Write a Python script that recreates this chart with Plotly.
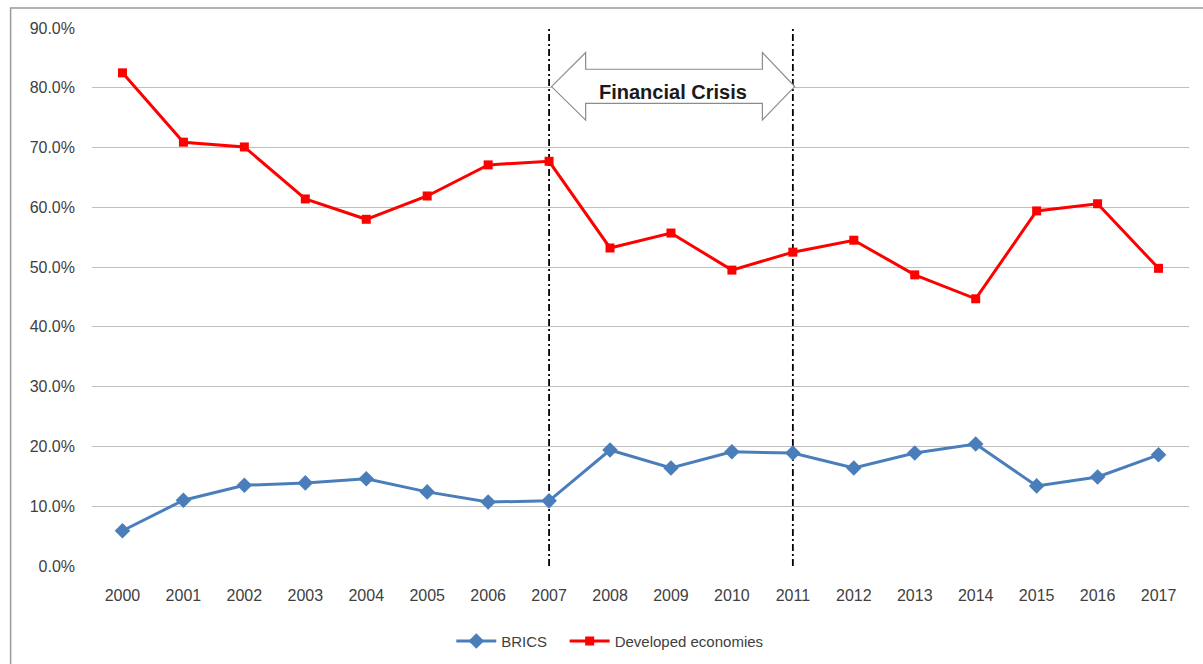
import plotly.graph_objects as go

# Share of outward FDI / values by group, 2000-2017
years = list(range(2000, 2018))
brics = [5.9, 11.0, 13.5, 13.9, 14.6, 12.4, 10.7, 10.9, 19.4, 16.4,
         19.1, 18.9, 16.4, 18.9, 20.4, 13.4, 14.9, 18.6]
developed = [82.5, 70.9, 70.1, 61.4, 58.0, 61.9, 67.1, 67.7, 53.2, 55.7,
             49.5, 52.5, 54.5, 48.7, 44.7, 59.4, 60.6, 49.8]
y_ticks = [0, 10, 20, 30, 40, 50, 60, 70, 80, 90]
crisis_start, crisis_end = 2007, 2011
crisis_label = "Financial Crisis"

FONT = "Liberation Sans"
TXT = "#404040"

fig = go.Figure()
fig.add_trace(go.Scatter(
    x=years, y=[v / 100 for v in brics], name="BRICS   ", mode="lines+markers",
    line=dict(color="#4a7ebb", width=3),
    marker=dict(symbol="diamond", size=12, color="#4a7ebb"),
))
fig.add_trace(go.Scatter(
    x=years, y=[v / 100 for v in developed], name="Developed economies",
    mode="lines+markers",
    line=dict(color="#ff0000", width=3),
    marker=dict(symbol="square", size=9, color="#ff0000"),
))

# dash-dot markers for the crisis period
shapes = []
for xv in (crisis_start, crisis_end):
    shapes.append(dict(
        type="line", xref="x", yref="y", x0=xv, x1=xv, y0=0, y1=0.9,
        line=dict(color="#000000", width=1.8, dash="7px,3px,2px,3px"),
        layer="between",
    ))

# double-headed block arrow spanning the crisis
a0, a1 = crisis_start + 0.04, crisis_end + 0.03
h0, h1 = crisis_start + 0.6, crisis_end - 0.5
yc, yht, yst, ysb, yhb = 0.802, 0.859, 0.831, 0.774, 0.746
path = (f"M {a0},{yc} L {h0},{yht} L {h0},{yst} L {h1},{yst} L {h1},{yht} "
        f"L {a1},{yc} L {h1},{yhb} L {h1},{ysb} L {h0},{ysb} L {h0},{yhb} Z")
shapes.append(dict(type="path", xref="x", yref="y", path=path,
                   fillcolor="white", line=dict(color="#8c8c8c", width=1.2),
                   layer="between"))

# outer chart frame
shapes.append(dict(type="rect", xref="paper", yref="paper",
                   x0=-0.0742, x1=1.1, y0=-0.5, y1=1.0372,
                   line=dict(color="#9a9a9a", width=1.5), fillcolor="rgba(0,0,0,0)",
                   layer="below"))

fig.update_layout(
    width=1203, height=664,
    margin=dict(l=92, r=14, t=28, b=98, autoexpand=False),
    paper_bgcolor="white", plot_bgcolor="white",
    font=dict(family=FONT, size=16, color=TXT),
    shapes=shapes,
    annotations=[dict(
        x=(crisis_start + crisis_end) / 2 + 0.03, y=0.793, xref="x", yref="y",
        text=f"<b>{crisis_label}</b>", showarrow=False,
        font=dict(family=FONT, size=20, color="#1a1a1a"),
    )],
    legend=dict(orientation="h", x=0.472, y=-0.14, xanchor="center",
                yanchor="middle", font=dict(family=FONT, size=15, color=TXT),
                itemwidth=40, tracegroupgap=0),
    showlegend=True,
)
fig.update_xaxes(
    range=[years[0] - 0.5, years[-1] + 0.5],
    tickvals=years, ticktext=[str(y) for y in years],
    showgrid=False, zeroline=False, showline=False, ticks="",
    ticklabelstandoff=18, tickfont=dict(size=16, color=TXT),
)
fig.update_yaxes(
    range=[0, 0.9], tickvals=[t / 100 for t in y_ticks], tickformat=".1%",
    showgrid=True, gridcolor="#bfbfbf", gridwidth=1.2,
    zeroline=False, showline=False, ticks="",
    ticklabelstandoff=16, tickfont=dict(size=16, color=TXT),
)

fig.write_html("out.html")
